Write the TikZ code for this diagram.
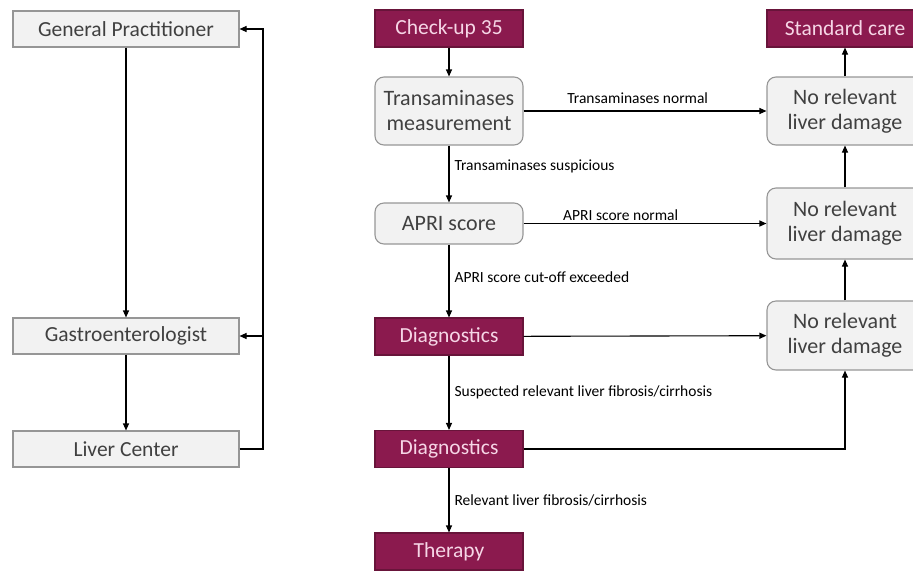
\documentclass[tikz,border=0pt]{standalone}
\usepackage{fontspec}
\setmainfont{Carlito}
\usetikzlibrary{arrows.meta,positioning}
\definecolor{berry}{RGB}{139,26,78}
\definecolor{berrytxt}{RGB}{246,214,230}
\definecolor{boxgray}{RGB}{242,242,242}
\definecolor{edgegray}{RGB}{150,150,150}
\definecolor{txtgray}{RGB}{64,64,64}

\begin{document}
\begin{tikzpicture}[x=1pt,y=-1pt,>={Triangle[length=7pt,width=6pt]},line width=1.1pt,
  gbox/.style={draw=edgegray,fill=boxgray,text=txtgray,minimum width=226pt,minimum height=36pt,font=\fontsize{21.5}{24}\selectfont},
  rbox/.style={draw=edgegray,fill=boxgray,text=txtgray,rounded corners=9pt,align=center,font=\fontsize{22}{25}\selectfont},
  pbox/.style={draw=berry!75!black,fill=berry,text=berrytxt,minimum width=148pt,minimum height=37pt,font=\fontsize{21.5}{24}\selectfont},
  lbl/.style={font=\fontsize{15.5}{18}\selectfont,text=black,inner sep=2pt}]
\useasboundingbox (0,0) rectangle (913,571);
% left column: care levels
\node[gbox] (gp) at (126,29) {General Practitioner};
\node[gbox] (gas) at (126,336) {Gastroenterologist};
\node[gbox] (lc) at (126,449) {Liver Center};
\coordinate (ret) at (263,449);
\draw[->] (gp) -- (gas);
\draw[->] (gas) -- (lc);
\draw[->] (lc.east) -- (ret) |- (gp.east);
\draw[->] (gas.east -| ret) -- (gas.east);
% right column: screening pathway
\node[pbox] (chk) at (449,28.5) {Check-up 35};
\node[rbox,minimum width=148pt,minimum height=68pt] (tm) at (449,111) {Transaminases\\measurement};
\node[rbox,minimum width=148pt,minimum height=41pt] (apri) at (449,223.5) {APRI score};
\node[pbox] (dg1) at (449,336.5) {Diagnostics};
\node[pbox] (dg2) at (449,449) {Diagnostics};
\node[pbox] (thr) at (449,551.5) {Therapy};
\node[pbox,minimum width=156pt] (sc) at (845,28.5) {Standard care};
\node[rbox,minimum width=156pt,minimum height=68pt] (nr1) at (845,111) {No relevant\\liver damage};
\node[rbox,minimum width=156pt,minimum height=71pt] (nr2) at (845,223.5) {No relevant\\liver damage};
\node[rbox,minimum width=156pt,minimum height=69pt] (nr3) at (845,335.5) {No relevant\\liver damage};
\draw[->] (chk) -- (tm);
\draw[->] (tm) -- node[lbl,above=5pt,pos=0.47]{Transaminases normal} (nr1);
\draw[->] (tm) -- node[lbl,right=3pt,pos=0.36]{Transaminases suspicious} (apri);
\draw[->] (apri) -- node[lbl,above=0pt,pos=0.4]{APRI score normal} (nr2);
\draw[->] (apri) -- node[lbl,right=3pt,pos=0.45]{APRI score cut-off exceeded} (dg1);
\draw[->] (dg1) -- (nr3);
\draw[->] (dg1) -- node[lbl,right=3pt]{Suspected relevant liver fibrosis/cirrhosis} (dg2);
\draw[->] (dg2) -| (nr3);
\draw[->] (dg2) -- node[lbl,right=3pt]{Relevant liver fibrosis/cirrhosis} (thr);
\draw[->] (nr3) -- (nr2);
\draw[->] (nr2) -- (nr1);
\draw[->] (nr1) -- (sc);
\end{tikzpicture}
\end{document}
